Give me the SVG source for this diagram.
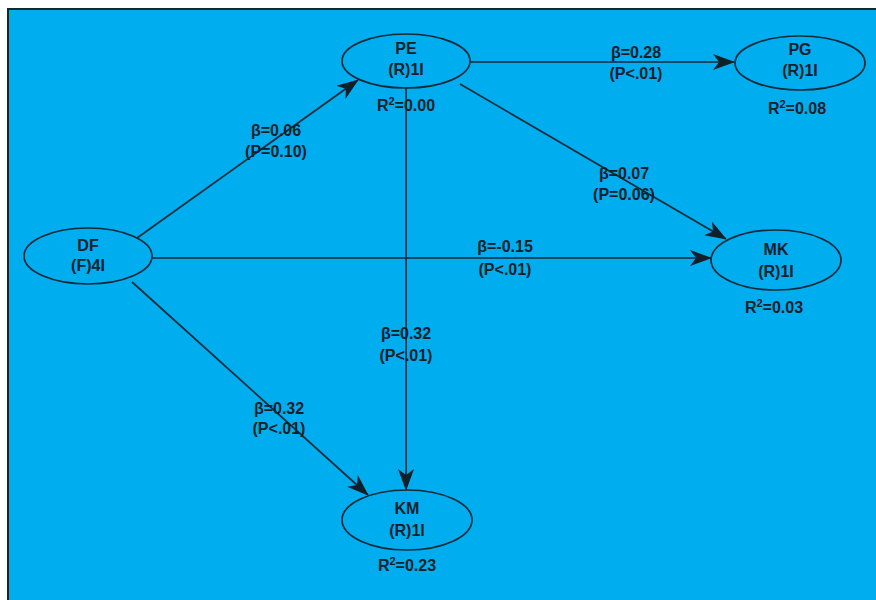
<svg xmlns="http://www.w3.org/2000/svg" width="876" height="600" viewBox="0 0 876 600">
<style>
.bg{fill:#00adee}
.node ellipse{fill:#00adee;stroke:#0e2a38;stroke-width:1.7}
text{font-family:"Liberation Sans",Arial,sans-serif;font-weight:bold;font-size:16px;fill:#13202a;text-anchor:middle}
.conn line{stroke:#0e2a38;stroke-width:1.7;fill:none}
</style>
<defs>
<marker id="arr" viewBox="0 0 22 16" refX="21" refY="8" markerWidth="22" markerHeight="16" markerUnits="userSpaceOnUse" orient="auto">
<path d="M0,0 L22,8 L0,16 L6,8 z" fill="#10202a"/>
</marker>
</defs>
<rect x="0" y="0" width="876" height="600" fill="#ffffff"/>
<rect class="bg" x="8" y="9" width="870" height="595" stroke="#0e2a30" stroke-width="2"/>
<g id="connectors" class="conn">
<line x1="469" y1="62" x2="734" y2="62" marker-end="url(#arr)"/>
<line x1="460" y1="84" x2="726" y2="239" marker-end="url(#arr)"/>
<line x1="137" y1="238" x2="358" y2="80" marker-end="url(#arr)"/>
<line x1="152" y1="258" x2="711" y2="258" marker-end="url(#arr)"/>
<line x1="132" y1="282" x2="368" y2="495" marker-end="url(#arr)"/>
<line x1="406" y1="88" x2="406" y2="490" marker-end="url(#arr)"/>
</g>
<g id="labels">
<text x="276" y="136">β=0.06</text>
<text x="276" y="157">(P=0.10)</text>
<text x="636" y="58">β=0.28</text>
<text x="636" y="79">(P&lt;.01)</text>
<text x="624" y="179">β=0.07</text>
<text x="624" y="200">(P=0.06)</text>
<text x="505" y="252">β=-0.15</text>
<text x="505" y="275">(P&lt;.01)</text>
<text x="406" y="339">β=0.32</text>
<text x="406" y="361">(P&lt;.01)</text>
<text x="279" y="414">β=0.32</text>
<text x="279" y="434">(P&lt;.01)</text>
</g>
<g id="PE" class="node">
<ellipse cx="406" cy="61" rx="64" ry="27"/>
<text x="406" y="54">PE</text>
<text x="406" y="75">(R)1I</text>
<text x="406" y="111">R<tspan dy="-6" font-size="11">2</tspan><tspan dy="6">=0.00</tspan></text>
</g>
<g id="PG" class="node">
<ellipse cx="800" cy="63" rx="65" ry="27"/>
<text x="800" y="55">PG</text>
<text x="800" y="76">(R)1I</text>
<text x="797" y="114">R<tspan dy="-6" font-size="11">2</tspan><tspan dy="6">=0.08</tspan></text>
</g>
<g id="DF" class="node">
<ellipse cx="88" cy="256" rx="64" ry="28"/>
<text x="88" y="251">DF</text>
<text x="88" y="271">(F)4I</text>
</g>
<g id="MK" class="node">
<ellipse cx="776" cy="260" rx="65" ry="30"/>
<text x="776" y="255">MK</text>
<text x="776" y="277">(R)1I</text>
<text x="774" y="313">R<tspan dy="-6" font-size="11">2</tspan><tspan dy="6">=0.03</tspan></text>
</g>
<g id="KM" class="node">
<ellipse cx="407" cy="520" rx="65" ry="30"/>
<text x="407" y="514">KM</text>
<text x="407" y="536">(R)1I</text>
<text x="407" y="571">R<tspan dy="-6" font-size="11">2</tspan><tspan dy="6">=0.23</tspan></text>
</g>
</svg>
